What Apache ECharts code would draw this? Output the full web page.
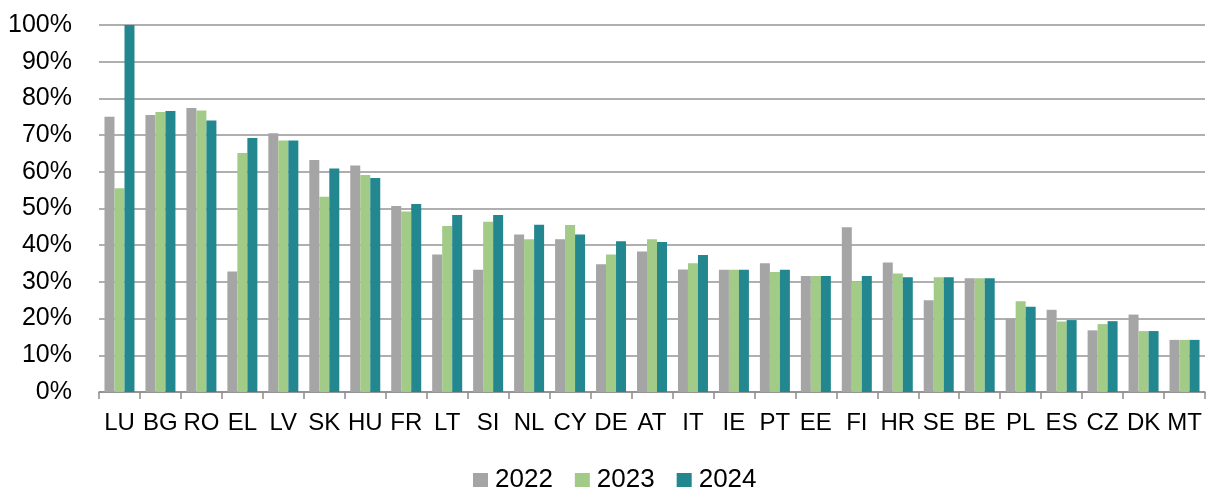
<!DOCTYPE html>
<html>
<head>
<meta charset="utf-8">
<script src="https://cdn.jsdelivr.net/npm/echarts@6/dist/echarts.min.js"></script>
<style>
html,body{margin:0;padding:0;background:#fff;}
#chart{width:1206px;height:489px;}
</style>
</head>
<body>
<div id="chart"></div>
<script>
var categories = ['LU','BG','RO','EL','LV','SK','HU','FR','LT','SI','NL','CY','DE','AT','IT','IE','PT','EE','FI','HR','SE','BE','PL','ES','CZ','DK','MT'];
var seriesNames = ['2022','2023','2024'];
var values2022 = [75.0,75.5,77.4,32.8,70.5,63.2,61.7,50.7,37.5,33.3,42.9,41.6,34.8,38.3,33.4,33.3,35.1,31.6,44.9,35.3,25.0,31.0,20.0,22.4,16.8,21.1,14.2];
var values2023 = [55.5,76.3,76.7,65.1,68.5,53.2,59.1,49.2,45.2,46.4,41.6,45.5,37.5,41.6,35.1,33.3,32.7,31.6,30.0,32.3,31.3,31.0,24.7,19.2,18.5,16.6,14.2];
var values2024 = [100.0,76.6,74.0,69.2,68.5,60.9,58.3,51.2,48.2,48.2,45.6,42.9,41.1,40.9,37.3,33.3,33.3,31.6,31.6,31.3,31.3,31.0,23.2,19.6,19.3,16.6,14.2];
var yTicks = {min:0, max:100, interval:10};
var colors = ['#A5A5A5','#A1CB87','#22878F'];

var FONT = 'Liberation Sans, Arial, sans-serif';
var chart = echarts.init(document.getElementById('chart'), null, {renderer:'canvas'});
var allValues = [values2022, values2023, values2024];
chart.setOption({
  animation: false,
  color: colors,
  grid: {left: 99, right: 1, top: 25, bottom: 97, containLabel: false},
  legend: {
    data: seriesNames,
    left: 468, top: 462,
    itemWidth: 15, itemHeight: 14, itemGap: 22,
    icon: 'rect',
    textStyle: {fontFamily: FONT, fontSize: 26, color: '#000', padding:[0,0,0,2]}
  },
  xAxis: {
    type: 'category',
    data: categories,
    axisLine: {lineStyle: {color: '#8C8C8C', width: 1.5}},
    axisTick: {show: true, length: 7, lineStyle: {color: '#8C8C8C', width: 1.5}},
    axisLabel: {fontFamily: FONT, fontSize: 24, color: '#000', margin: 19, interval: 0}
  },
  yAxis: {
    type: 'value',
    min: yTicks.min, max: yTicks.max, interval: yTicks.interval,
    axisLine: {show: false},
    axisTick: {show: false},
    splitLine: {lineStyle: {color: '#959595', width: 1.5}},
    axisLabel: {fontFamily: FONT, fontSize: 25, color: '#000', margin: 27, formatter: '{value}%'}
  },
  series: seriesNames.map(function(n, i){
    return {
      name: n, type: 'bar', data: allValues[i],
      barWidth: 10, barGap: '0%',
      itemStyle: {color: colors[i]}
    };
  })
});
</script>
</body>
</html>
